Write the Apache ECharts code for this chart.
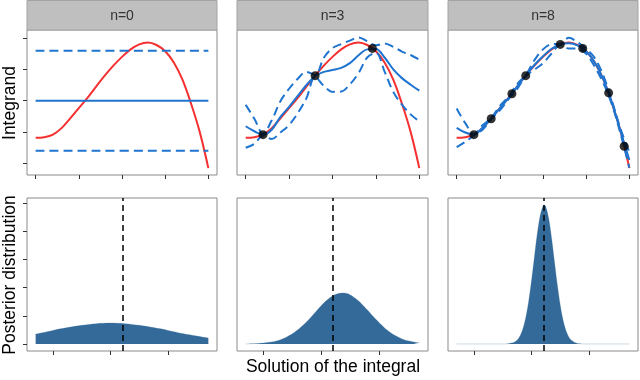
<!DOCTYPE html>
<html>
<head>
<meta charset="utf-8">
<script src="https://cdn.jsdelivr.net/npm/echarts@6/dist/echarts.min.js"></script>
<style>
  html, body { margin: 0; padding: 0; background: #fff; }
  #chart { width: 640px; height: 380px; }
</style>
</head>
<body>
<div id="chart"></div>
<script>
// panel titles
const panelNames = ['n=0', 'n=3', 'n=8'];

// integrand, x on [0, 1]
const xGrid = [0, 0.05, 0.1, 0.15, 0.2, 0.25, 0.3, 0.35, 0.4, 0.45, 0.5, 0.55, 0.6, 0.65, 0.7, 0.75, 0.8, 0.85, 0.9, 0.95, 1];
const trueF = [-1.19, -1.17, -1.09, -0.88, -0.57, -0.24, 0.09, 0.45, 0.80, 1.12, 1.40, 1.64, 1.80, 1.86, 1.78, 1.58, 1.22, 0.67, -0.10, -1.00, -2.16];

// n=0 : prior only
const xEnds = [0, 1];
const mean0 = [0, 0];
const upper0 = [1.6, 1.6];
const lower0 = [-1.6, -1.6];

// n=3
const mean3 = [-0.82, -0.98, -1.09, -0.93, -0.52, -0.20, 0.15, 0.50, 0.79, 0.92, 0.98, 1.05, 1.20, 1.45, 1.64, 1.65, 1.38, 1.00, 0.72, 0.51, 0.32];
const upper3 = [-0.13, -0.58, -1.06, -0.63, -0.02, 0.38, 0.70, 0.92, 0.82, 1.37, 1.68, 1.81, 1.92, 2.02, 1.90, 1.77, 1.83, 1.72, 1.57, 1.46, 1.31];
const lower3 = [-1.51, -1.38, -1.12, -1.23, -1.02, -0.78, -0.40, 0.08, 0.76, 0.47, 0.28, 0.29, 0.52, 0.88, 1.38, 1.53, 0.93, 0.28, -0.13, -0.44, -0.67];
const dots3X = [0.1, 0.4, 0.73];
const dots3Y = [-1.09, 0.80, 1.67];

// n=8
const mean8 = [-0.87, -1.02, -1.09, -0.86, -0.58, -0.24, 0.08, 0.45, 0.80, 1.14, 1.42, 1.66, 1.80, 1.84, 1.77, 1.58, 1.22, 0.67, -0.08, -1.00, -1.90];
const upper8 = [-0.25, -0.72, -1.07, -0.79, -0.56, -0.17, 0.12, 0.53, 0.82, 1.29, 1.64, 1.81, 1.82, 2.01, 1.87, 1.66, 1.36, 0.79, -0.02, -0.92, -1.65];
const lower8 = [-1.49, -1.32, -1.11, -0.93, -0.60, -0.31, 0.04, 0.37, 0.78, 0.99, 1.20, 1.51, 1.78, 1.67, 1.67, 1.50, 1.08, 0.55, -0.14, -1.08, -2.15];
const dots8X = [0.1, 0.2, 0.32, 0.4, 0.6, 0.73, 0.88, 0.97];
const dots8Y = [-1.09, -0.58, 0.22, 0.80, 1.80, 1.67, 0.25, -1.46];

// posterior of the integral
const trueValue = 2.21;
const post0X = [0.7, 1.0, 1.25, 1.5, 1.75, 2.0, 2.25, 2.5, 2.75, 3.0, 3.25, 3.5, 3.7];
const post0Y = [0.35, 0.48, 0.58, 0.66, 0.72, 0.74, 0.72, 0.66, 0.58, 0.48, 0.37, 0.28, 0.21];
const post3X = [0.7, 0.8, 0.9, 1.0, 1.1, 1.2, 1.3, 1.4, 1.5, 1.6, 1.7, 1.8, 1.9, 2.0, 2.1, 2.2, 2.3, 2.4, 2.5, 2.6, 2.7, 2.8, 2.9, 3.0, 3.1, 3.2, 3.3, 3.4, 3.5, 3.6, 3.7];
const post3Y = [0.00, 0.01, 0.02, 0.03, 0.06, 0.09, 0.15, 0.24, 0.35, 0.50, 0.68, 0.89, 1.12, 1.35, 1.55, 1.70, 1.79, 1.81, 1.75, 1.61, 1.43, 1.21, 0.98, 0.77, 0.57, 0.41, 0.28, 0.18, 0.11, 0.07, 0.04];
const post8X = [0.7, 1.2, 1.5, 1.6, 1.65, 1.7, 1.75, 1.8, 1.85, 1.9, 1.95, 2.0, 2.05, 2.1, 2.15, 2.2, 2.22, 2.25, 2.3, 2.35, 2.4, 2.45, 2.5, 2.55, 2.6, 2.65, 2.7, 2.75, 2.8, 2.85, 2.9, 3.0, 3.7];
const post8Y = [0, 0, 0, 0.01, 0.03, 0.06, 0.13, 0.28, 0.53, 0.93, 1.50, 2.24, 3.08, 3.90, 4.55, 4.90, 4.93, 4.86, 4.44, 3.74, 2.91, 2.08, 1.37, 0.83, 0.47, 0.24, 0.12, 0.05, 0.02, 0.01, 0, 0, 0];

const RED = '#f53030';
const BLUE = '#1f74cf';
const FILL = '#336a99';

const panelLeft = [27, 237, 448];
const panelWidth = [190, 191, 190];

function pairs(xs, ys) {
  return xs.map((x, i) => [x, ys[i]]);
}

const grids = [];
const xAxes = [];
const yAxes = [];
const series = [];
const graphics = [];

const topSets = [
  { x: xEnds, mean: mean0, upper: upper0, lower: lower0, dx: [], dy: [] },
  { x: xGrid, mean: mean3, upper: upper3, lower: lower3, dx: dots3X, dy: dots3Y },
  { x: xGrid, mean: mean8, upper: upper8, lower: lower8, dx: dots8X, dy: dots8Y }
];
const postSets = [
  { x: post0X, y: post0Y },
  { x: post3X, y: post3Y },
  { x: post8X, y: post8Y }
];

const tickStyle = { show: true, length: 4, inside: false, lineStyle: { color: '#333', width: 1 } };
const noLine = { show: false, onZero: false };

for (let p = 0; p < 3; p++) {
  // top panel: integrand
  const gTop = grids.length;
  grids.push({ left: panelLeft[p], top: 30, width: panelWidth[p], height: 145, show: true, borderColor: '#8a8a8a', borderWidth: 1, backgroundColor: '#fff' });
  xAxes.push({ gridIndex: gTop, type: 'value', position: 'bottom', min: -0.05, max: 1.05, axisLine: noLine, splitLine: { show: false }, axisLabel: { show: false }, axisTick: Object.assign({ customValues: [0, 0.25, 0.5, 0.75, 1] }, tickStyle) });
  yAxes.push({ gridIndex: gTop, type: 'value', position: 'left', min: -2.38, max: 2.26, axisLine: noLine, splitLine: { show: false }, axisLabel: { show: false }, axisTick: Object.assign({ customValues: [-2, -1, 0, 1, 2] }, p === 0 ? tickStyle : { show: false }) });

  const set = topSets[p];
  series.push({ type: 'line', xAxisIndex: gTop, yAxisIndex: gTop, data: pairs(xGrid, trueF), smooth: 0.35, showSymbol: false, lineStyle: { color: RED, width: 2 }, z: 2 });
  series.push({ type: 'line', xAxisIndex: gTop, yAxisIndex: gTop, data: pairs(set.x, set.mean), smooth: 0.35, showSymbol: false, lineStyle: { color: BLUE, width: 2 }, z: 3 });
  series.push({ type: 'line', xAxisIndex: gTop, yAxisIndex: gTop, data: pairs(set.x, set.upper), smooth: 0.35, showSymbol: false, lineStyle: { color: BLUE, width: 2, type: [9, 5] }, z: 3 });
  series.push({ type: 'line', xAxisIndex: gTop, yAxisIndex: gTop, data: pairs(set.x, set.lower), smooth: 0.35, showSymbol: false, lineStyle: { color: BLUE, width: 2, type: [9, 5] }, z: 3 });
  if (set.dx.length) {
    series.push({ type: 'scatter', xAxisIndex: gTop, yAxisIndex: gTop, data: pairs(set.dx, set.dy), symbolSize: 9, itemStyle: { color: '#000' }, z: 5 });
  }

  // strip header
  graphics.push({ type: 'rect', shape: { x: panelLeft[p], y: 0.5, width: panelWidth[p], height: 29.5 }, style: { fill: '#bfbfbf', stroke: '#a3a3a3', lineWidth: 1 } });
  graphics.push({ type: 'text', x: panelLeft[p] + panelWidth[p] / 2, y: 16, style: { text: panelNames[p], font: '14px "Liberation Sans", Arial, sans-serif', fill: '#333', align: 'center', verticalAlign: 'middle' } });

  // bottom panel: posterior of the integral
  const gBot = grids.length;
  grids.push({ left: panelLeft[p], top: 198, width: panelWidth[p], height: 153, show: true, borderColor: '#8a8a8a', borderWidth: 1, backgroundColor: '#fff' });
  xAxes.push({ gridIndex: gBot, type: 'value', position: 'bottom', min: 0.55, max: 3.85, axisLine: noLine, splitLine: { show: false }, axisLabel: { show: false }, axisTick: Object.assign({ customValues: [1, 2, 3] }, tickStyle) });
  yAxes.push({ gridIndex: gBot, type: 'value', position: 'left', min: -0.25, max: 5.18, axisLine: noLine, splitLine: { show: false }, axisLabel: { show: false }, axisTick: Object.assign({ customValues: [0, 1, 2, 3, 4, 5] }, p === 0 ? tickStyle : { show: false }) });

  const post = postSets[p];
  series.push({
    type: 'line', xAxisIndex: gBot, yAxisIndex: gBot, data: pairs(post.x, post.y), smooth: 0.3, showSymbol: false,
    lineStyle: { color: 'rgba(51,106,153,0.25)', width: 1 },
    areaStyle: { color: FILL, opacity: 1 },
    z: 2,
    markLine: {
      silent: true, symbol: 'none', label: { show: false },
      lineStyle: { color: '#000', type: [6, 4], width: 1.5 },
      data: [{ xAxis: trueValue }]
    }
  });
}

// axis titles
const font = '"Liberation Sans", Arial, sans-serif';
graphics.push({ type: 'text', x: 10, y: 103, rotation: Math.PI / 2, style: { text: 'Integrand', font: '17.5px ' + font, fill: '#000', align: 'center', verticalAlign: 'middle' } });
graphics.push({ type: 'text', x: 10, y: 275, rotation: Math.PI / 2, style: { text: 'Posterior distribution', font: '17.5px ' + font, fill: '#000', align: 'center', verticalAlign: 'middle' } });
graphics.push({ type: 'text', x: 333, y: 367, style: { text: 'Solution of the integral', font: '17.5px ' + font, fill: '#000', align: 'center', verticalAlign: 'middle' } });

const chart = echarts.init(document.getElementById('chart'), null, { renderer: 'canvas' });
chart.setOption({
  animation: false,
  backgroundColor: '#fff',
  grid: grids,
  xAxis: xAxes,
  yAxis: yAxes,
  series: series,
  graphic: graphics
});
</script>
</body>
</html>
